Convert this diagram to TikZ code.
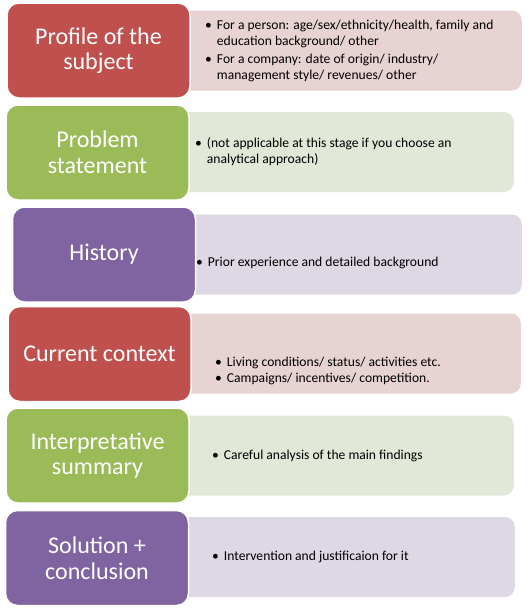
\documentclass[tikz,border=0pt]{standalone}
\usepackage{fontspec}
\setmainfont{Carlito}
\usetikzlibrary{positioning}

\definecolor{stagered}{HTML}{C0504D}
\definecolor{stagegreen}{HTML}{9BBB59}
\definecolor{stagepurple}{HTML}{8064A2}
\definecolor{notered}{HTML}{E8D3D3}
\definecolor{notegreen}{HTML}{E1E8D7}
\definecolor{notepurple}{HTML}{DDD8E4}

\newcommand{\bul}{\textbullet}

\begin{document}
\begin{tikzpicture}[x=1pt, y=1pt,
    stage/.style={draw=white, line width=1.5pt, rounded corners=12pt, align=center,
                  text=white, font=\fontsize{24}{25.5}\selectfont,
                  minimum width=183pt, minimum height=95pt, inner sep=2pt},
    detail/.style={rounded corners=10pt, anchor=east,
                   minimum width=370pt, minimum height=80pt, inner sep=0pt},
    notes/.style={anchor=west, align=left, inner sep=0pt,
                  font=\fontsize{13.6}{16}\selectfont}
]
    \useasboundingbox (0,0) rectangle (531,-613);

    % ========== background panels ==========
    \node[detail, fill=notered]    (pr_box) at (522,-50.5)  {};
    \node[detail, fill=notegreen]  (ps_box) at (514,-152)   {};
    \node[detail, fill=notepurple] (hi_box) at (522,-254.5) {};
    \node[detail, fill=notered]    (cc_box) at (521,-353.5) {};
    \node[detail, fill=notegreen]  (is_box) at (514,-455.5) {};
    \node[detail, fill=notepurple] (sc_box) at (515,-557)   {};

    % ========== stages ==========
    \node[stage, fill=stagered]    (pr_name) at (98.5,-50.5)  {Profile of the\\subject};
    \node[stage, fill=stagegreen]  (ps_name) at (97.5,-152.5) {Problem\\statement};
    \node[stage, fill=stagepurple] (hi_name) at (104,-254.5)  {History};
    \node[stage, fill=stagered]    (cc_name) at (99.5,-354)   {Current context};
    \node[stage, fill=stagegreen]  (is_name) at (97.5,-455.5) {Interpretative\\summary};
    \node[stage, fill=stagepurple] (sc_name) at (97,-558)     {Solution +\\conclusion};

    % ========== notes ==========
    \node[notes] (pr_text) at (205,-51) {%
        \begin{tabular}{@{}l@{\hspace{5pt}}l@{}}
        \bul & For a person: age/sex/ethnicity/health, family and\\
             & education background/ other\\[2pt]
        \bul & For a company: date of origin/ industry/\\
             & management style/ revenues/ other
        \end{tabular}};
    \node[notes] (ps_text) at (195,-152.5) {%
        \begin{tabular}{@{}l@{\hspace{5pt}}l@{}}
        \bul & (not applicable at this stage if you choose an\\
             & analytical approach)
        \end{tabular}};
    \node[notes] (hi_text) at (196,-263) {%
        \bul\hspace{5pt}Prior experience and detailed background};
    \node[notes] (cc_text) at (215,-371) {%
        \begin{tabular}{@{}l@{\hspace{5pt}}l@{}}
        \bul & Living conditions/ status/ activities etc.\\
        \bul & Campaigns/ incentives/ competition.
        \end{tabular}};
    \node[notes] (is_text) at (212,-456) {%
        \bul\hspace{5pt}Careful analysis of the main findings};
    \node[notes] (sc_text) at (212,-557) {%
        \bul\hspace{5pt}Intervention and justificaion for it};
\end{tikzpicture}
\end{document}
